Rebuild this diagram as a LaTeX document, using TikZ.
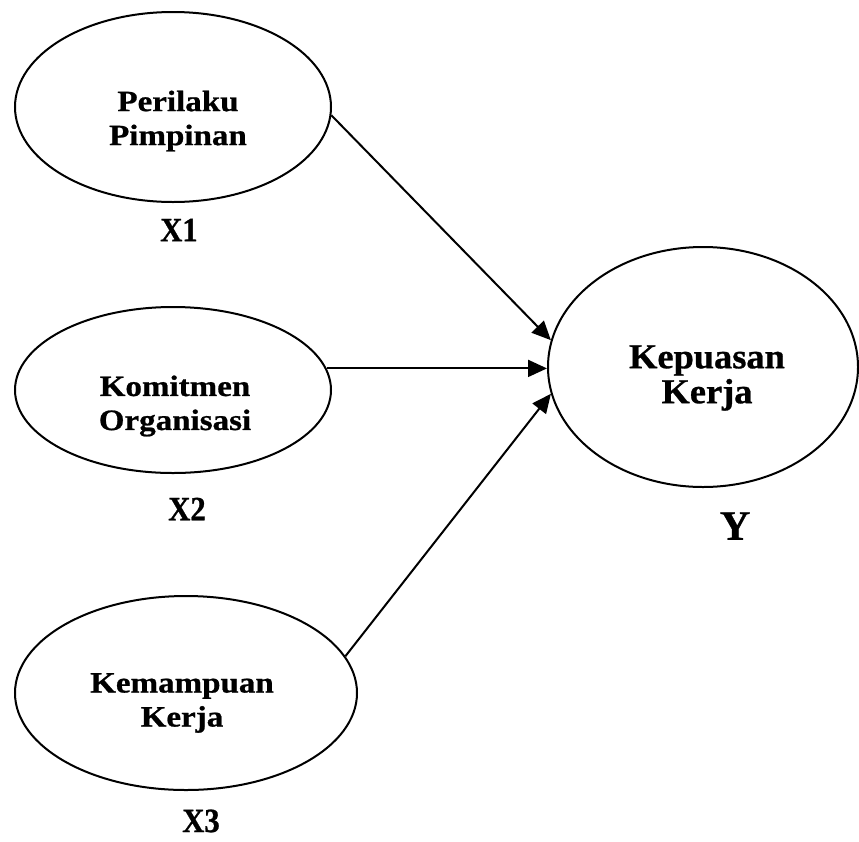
\documentclass[tikz,border=0pt]{standalone}
\usepackage{fontspec}
\setmainfont{Liberation Serif}
\newfontfamily\innerfont[FakeStretch=1.12,FakeBold=0.8]{Liberation Serif Bold}
\newfontfamily\yfont[FakeStretch=1.04,FakeBold=0.8]{Liberation Serif Bold}
\newfontfamily\labfont[FakeStretch=0.9,FakeBold=0.8]{Liberation Serif Bold}
\newfontfamily\ylabfont[FakeBold=0.8]{Liberation Serif Bold}
\usetikzlibrary{shapes.geometric,arrows.meta}
\begin{document}
\begin{tikzpicture}[x=1pt,y=-1pt,
  var/.style={ellipse,draw,line width=2pt,inner sep=0pt},
  txt/.style={align=center,font=\innerfont\fontsize{29.5}{34}\selectfont,inner sep=0pt},
  ytxt/.style={align=center,font=\yfont\fontsize{35}{35}\selectfont,inner sep=0pt},
  lab/.style={font=\labfont\fontsize{34}{36}\selectfont,inner sep=0pt},
  path/.style={line width=2pt,-{Triangle[length=19pt,width=17pt]}}]
\useasboundingbox (0,0) rectangle (859,841);
\node[var,minimum width=316pt,minimum height=190pt] (p1) at (173,107) {};
\node[var,minimum width=316pt,minimum height=166pt] (p2) at (173,390) {};
\node[var,minimum width=342pt,minimum height=194pt] (p3) at (186,693) {};
\node[var,minimum width=310pt,minimum height=240pt] (y) at (703,367) {};
\node[txt] (t1) at (178,121) {Perilaku\\Pimpinan};
\node[txt] (t2) at (175,406) {Komitmen\\Organisasi};
\node[txt] (t3) at (182,703) {Kemampuan\\Kerja};
\node[ytxt] (ty) at (707,378) {Kepuasan\\Kerja};
\node[lab] (x1) at (179,230) {X1};
\node[lab] (x2) at (187,509) {X2};
\node[lab] (x3) at (201,821) {X3};
\node[font=\ylabfont\fontsize{42}{44}\selectfont,inner sep=0pt] (ly) at (735,526) {Y};
\draw[path] (p1.-3) -- (y.170);
\draw[path] (p2.8) -- (p2.8 -| y.west);
\draw[path] (p3.13) -- (y.190);
\end{tikzpicture}
\end{document}
